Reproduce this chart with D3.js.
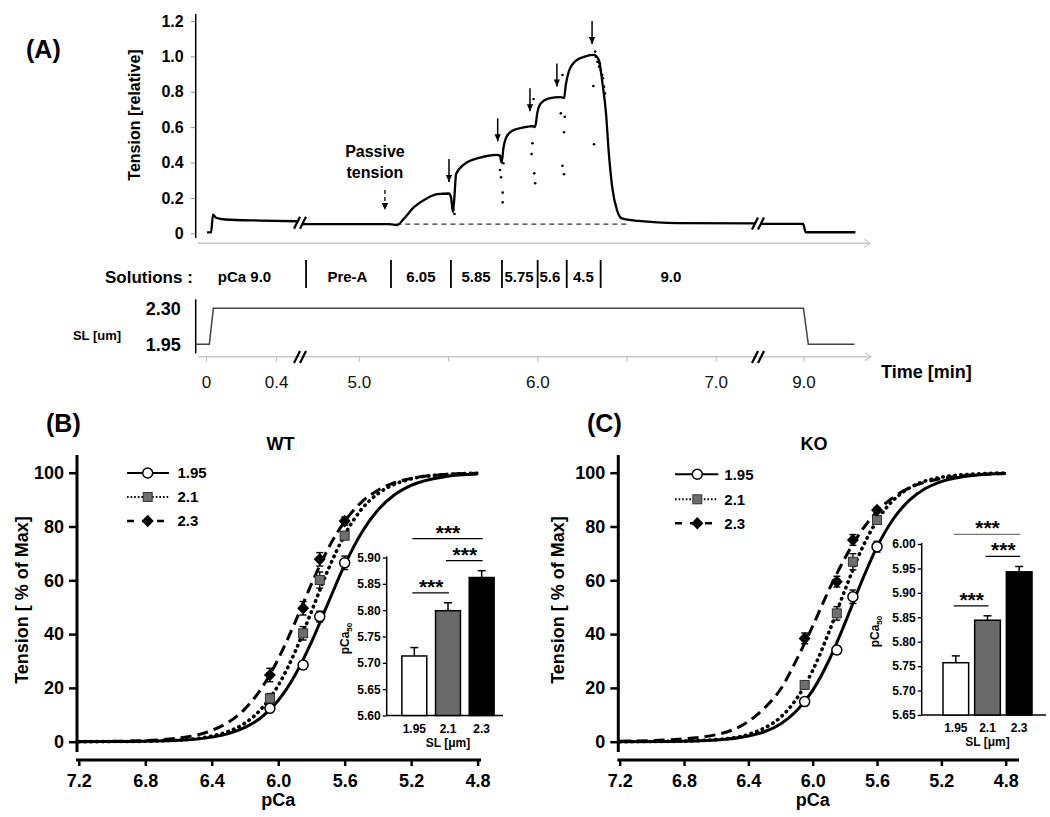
<!DOCTYPE html>
<html><head><meta charset="utf-8">
<script src="https://cdn.jsdelivr.net/npm/d3@7/dist/d3.min.js"></script>
<style>html,body{margin:0;padding:0;background:#fff;} svg{display:block;}</style>
</head><body>
<svg id="chart" width="1050" height="817"></svg>
<script>
// ================= DATA =================
// Panel A – tension recording (time in min, relative tension)
const traceTime = [0.006,0.029,0.04,0.057,0.11,0.31,0.526,
  4.68,5.17,5.215,5.25,5.31,5.385,5.44,5.505,5.517,5.527,5.535,5.545,5.59,5.68,5.77,5.79,5.80,5.81,5.825,5.86,5.93,5.975,5.985,5.992,6.0,6.02,6.065,6.13,6.15,6.16,6.178,6.215,6.27,6.318,6.345,6.365,6.385,6.4,6.42,6.447,6.475,6.565,6.79,7.22,
  8.76,8.998,9.012,9.29];
const traceTension = [0.005,0.005,0.105,0.088,0.078,0.072,0.068,
  0.052,0.052,0.047,0.08,0.149,0.2,0.222,0.225,0.2,0.12,0.2,0.335,0.39,0.428,0.443,0.44,0.40,0.48,0.54,0.58,0.60,0.606,0.6,0.62,0.68,0.735,0.762,0.77,0.765,0.84,0.92,0.975,1.0,1.008,0.98,0.85,0.68,0.465,0.26,0.13,0.084,0.07,0.058,0.056,
  0.053,0.053,0.006,0.006];
const dotTime = [5.525,5.530,5.536,5.797,5.806,5.806,5.791,5.810,5.983,5.988,5.968,5.973,5.979,6.141,6.150,6.150,6.154,6.132,6.141,6.318,6.314,6.374,6.379,6.328,6.337,6.346,6.356,6.364,6.368,6.350,6.324];
const dotTension = [0.160,0.132,0.109,0.317,0.230,0.175,0.358,0.396,0.339,0.283,0.448,0.509,0.759,0.382,0.334,0.571,0.659,0.678,0.895,0.503,0.833,0.829,0.791,0.998,0.970,0.942,0.923,0.895,0.876,0.961,1.027];
const arrowTime = [5.505,5.778,5.959,6.11,6.307];
const arrowTipTension = [0.29,0.52,0.69,0.83,1.07];
const passiveArrowTime = 5.146, passiveArrowTip = 0.12, passiveLabelTime = 5.09;
const passiveBaseline = 0.052, passiveSpan = [5.21, 6.5];
const tensionTicks = [0,0.2,0.4,0.6,0.8,1.0,1.2];
const solutionNames = ["pCa 9.0","Pre-A","6.05","5.85","5.75","5.6","4.5","9.0"];
const solutionLabelTime = [0.22,4.936,5.348,5.657,5.898,6.071,6.258,6.749];
const solutionBoundTime = [4.704,5.180,5.516,5.802,6.002,6.165,6.355];
const slTime = [-0.057,0.019,0.042,9.0,9.027,9.285];
const slValue = [1.95,1.95,2.30,2.30,1.95,1.95];
const slTicks = [1.95,2.30];
const timeTicks = [0,0.4,5.0,5.5,6.0,6.5,7.0,9.0];
const timeTickLabels = ["0","0.4","5.0","","6.0","","7.0","9.0"];
const axisBreakTime = [0.537,7.237];

// Panels B/C – force–pCa relations
const pCaGrid = [7.2,6.9,6.6,6.4,6.3,6.2,6.1,6.0,5.9,5.8,5.7,5.6,5.5,5.4,5.3,5.2,5.0,4.8];
const wtFit195 = [0.02,0.09,0.5,1.7,3.0,5.3,9.1,15.3,24.6,37.0,51.5,65.7,77.5,86.1,91.8,95.3,98.5,99.5];
const wtFit21  = [0.01,0.09,0.6,2.1,3.8,6.9,12.3,20.9,33.2,48.4,63.9,76.9,86.3,92.2,95.7,97.7,99.3,99.8];
const wtFit23  = [0.04,0.24,1.35,4.2,7.2,12.2,19.9,30.7,44.2,58.6,71.7,81.9,89.0,93.5,96.3,97.9,99.3,99.8];
const koFit195 = [0.02,0.11,0.64,2.1,3.7,6.6,11.5,19.1,30.1,44.0,58.9,72.4,82.7,89.7,94.1,96.7,99.0,99.7];
const koFit21  = [0.02,0.11,0.78,2.7,5.1,9.1,16.0,26.5,40.6,56.3,71.0,82.2,89.7,94.3,96.9,98.3,99.5,99.9];
const koFit23  = [0.17,0.7,2.6,7.5,12.5,19.5,30.5,43.0,56.3,68.2,78.1,85.6,90.8,94.3,96.5,97.8,99.2,99.7];
const markerPCa = [6.05,5.85,5.75,5.6];
const wtPts195 = [12.4,28.5,46.5,66.5], wtErr195 = [1.2,1.5,2.0,2.5];
const wtPts21  = [16.1,40.3,60.1,76.6], wtErr21  = [1.8,2.5,3.0,1.5];
const wtPts23  = [24.8,49.6,67.8,82.0], wtErr23  = [2.5,2.5,2.5,1.5];
const koPts195 = [14.9,34.1,53.9,72.5], koErr195 = [1.0,1.5,2.5,2.0];
const koPts21  = [21.1,47.7,66.9,82.4], koErr21  = [1.5,2.5,3.0,1.5];
const koPts23  = [38.4,59.5,75.0,86.1], koErr23  = [2.0,2.0,2.0,1.0];
const tensionPctTicks = [0,20,40,60,80,100];
const pCaTicks = [7.2,6.8,6.4,6.0,5.6,5.2,4.8];
const slLevels = ["1.95","2.1","2.3"];
const wtPCa50 = [5.713,5.799,5.862], wtPCa50Err = [0.016,0.015,0.013];
const koPCa50 = [5.757,5.844,5.943], koPCa50Err = [0.014,0.009,0.011];
const insetTicksWT = [5.60,5.65,5.70,5.75,5.80,5.85,5.90];
const insetTicksKO = [5.65,5.70,5.75,5.80,5.85,5.90,5.95,6.00];
const sigPairs = [[0,1],[1,2],[0,2]];
const sigLabel = "***";

// ================= DRAWING =================
const F = "'Liberation Sans', Arial, Helvetica, sans-serif";
const svg = d3.select("#chart").attr("font-family", F);
const defs = svg.append("defs");
defs.append("marker").attr("id","ah").attr("viewBox","0 0 10 10").attr("refX",10).attr("refY",5)
  .attr("markerWidth",7).attr("markerHeight",7).attr("markerUnits","userSpaceOnUse").attr("orient","auto")
  .append("path").attr("d","M0,0.5 L10,5 L0,9.5 Z").attr("fill","#000");

function addText(g, x, y, s, size, weight, anchor) {
  return g.append("text").attr("x",x).attr("y",y).attr("font-size",size)
    .attr("font-weight",weight||"bold").attr("text-anchor",anchor||"start").attr("fill","#000").text(s);
}
function breakMark(g, x, y) {
  [-3,3].forEach(dx => g.append("line").attr("x1",x+dx-3).attr("y1",y+6).attr("x2",x+dx+3).attr("y2",y-6)
    .attr("stroke","#000").attr("stroke-width",2.2));
}
function grayArrowAxis(g, x1, x2, y) {
  g.append("line").attr("x1",x1).attr("x2",x2).attr("y1",y).attr("y2",y).attr("stroke","#c8c8c8").attr("stroke-width",1.5);
  g.append("path").attr("d",`M${x2-6},${y-4} L${x2},${y} L${x2-6},${y+4}`).attr("fill","none").attr("stroke","#c8c8c8").attr("stroke-width",1.2);
}

// ---------- Panel A ----------
const gA = svg.append("g");
addText(gA, 26, 58, "(A)", 25);
const xT = d3.scaleLinear().domain([-0.1, axisBreakTime[0], 4.67, axisBreakTime[1], 8.746, 9.5])
  .range([188.5, 300, 300, 758, 758, 893]);
const yT = d3.scaleLinear().domain([0,1.2]).range([233.3,21]);

const yAx = gA.append("g").attr("transform","translate(195.7,0)")
  .call(d3.axisLeft(yT).tickValues(tensionTicks).tickSize(5).tickPadding(7).tickFormat(d => d===0 ? "0" : d3.format(".1f")(d)));
yAx.select(".domain").remove();
yAx.selectAll(".tick line").attr("stroke","#999");
yAx.selectAll(".tick text").attr("font-size",16).attr("font-weight","bold").attr("fill","#000").attr("font-family",F);
gA.append("line").attr("x1",195.7).attr("x2",195.7).attr("y1",14).attr("y2",238).attr("stroke","#000").attr("stroke-width",1.5);
gA.append("text").attr("transform","translate(139.5,115) rotate(-90)").attr("text-anchor","middle")
  .attr("font-size",16).attr("font-weight","bold").text("Tension [relative]");
grayArrowAxis(gA, 198, 870, 243.3);

// passive baseline
gA.append("line").attr("x1",xT(passiveSpan[0])).attr("x2",xT(passiveSpan[1]))
  .attr("y1",yT(passiveBaseline)).attr("y2",yT(passiveBaseline))
  .attr("stroke","#333").attr("stroke-width",1.2).attr("stroke-dasharray","5 4");

// trace
const segOf = t => t < axisBreakTime[0] ? 0 : (t < axisBreakTime[1] ? 1 : 2);
const tracePts = traceTime.map((t,i) => ({t, v: traceTension[i], s: segOf(t)}));
const lineT = d3.line().x(d => xT(d.t)).y(d => yT(d.v)).curve(d3.curveMonotoneX);
d3.groups(tracePts, d => d.s).forEach(([s, pts]) => {
  gA.append("path").attr("d", lineT(pts)).attr("fill","none").attr("stroke","#000").attr("stroke-width",2.3);
});
gA.selectAll("circle.dot").data(dotTime).join("circle").attr("class","dot")
  .attr("cx", d => xT(d)).attr("cy", (d,i) => yT(dotTension[i])).attr("r",1.3).attr("fill","#000");
breakMark(gA, xT(axisBreakTime[0]), yT(0.06));
breakMark(gA, xT(axisBreakTime[1]), yT(0.055));

// arrows
arrowTime.forEach((t,i) => {
  const x = xT(t), y = yT(arrowTipTension[i]);
  gA.append("line").attr("x1",x).attr("x2",x).attr("y1",y-23).attr("y2",y)
    .attr("stroke","#000").attr("stroke-width",1.5).attr("marker-end","url(#ah)");
});
{
  const x = xT(passiveArrowTime), y = yT(passiveArrowTip);
  gA.append("line").attr("x1",x).attr("x2",x).attr("y1",y-22).attr("y2",y-2)
    .attr("stroke","#000").attr("stroke-width",1.3).attr("stroke-dasharray","4 3").attr("marker-end","url(#ah)");
  addText(gA, xT(passiveLabelTime), 157, "Passive", 16, "bold", "middle");
  addText(gA, xT(passiveLabelTime), 178, "tension", 16, "bold", "middle");
}

// solutions row
addText(gA, 105, 283, "Solutions :", 17);
solutionNames.forEach((s,i) => addText(gA, xT(solutionLabelTime[i]), 282, s, 15, "bold", "middle"));
solutionBoundTime.forEach(t => gA.append("line").attr("x1",xT(t)).attr("x2",xT(t)).attr("y1",260).attr("y2",288)
  .attr("stroke","#000").attr("stroke-width",1.8));

// sarcomere length
const ySL = d3.scaleLinear().domain([1.95,2.30]).range([344.3,308.3]);
const slAx = gA.append("g").attr("transform","translate(195.7,0)")
  .call(d3.axisLeft(ySL).tickValues(slTicks).tickSize(0).tickPadding(15).tickFormat(d3.format(".2f")));
slAx.select(".domain").remove();
slAx.selectAll(".tick text").attr("font-size",18).attr("font-weight","bold").attr("fill","#000").attr("font-family",F);
gA.append("line").attr("x1",195.7).attr("x2",195.7).attr("y1",299.3).attr("y2",353.3).attr("stroke","#000").attr("stroke-width",1.5);
addText(gA, 97, 339.5, "SL [um]", 13, "bold", "middle");
const lineSL = d3.line().x((d,i) => xT(slTime[i])).y(d => ySL(d));
gA.append("path").attr("d", lineSL(slValue)).attr("fill","none").attr("stroke","#444").attr("stroke-width",1.5);

// time axis
grayArrowAxis(gA, 198, 871, 356.7);
const tAx = gA.append("g").attr("transform","translate(0,356.7)")
  .call(d3.axisBottom(xT).tickValues(timeTicks).tickSize(5).tickPadding(14).tickFormat((d,i) => timeTickLabels[i]));
tAx.select(".domain").remove();
tAx.selectAll(".tick line").attr("stroke","#bbb");
tAx.selectAll(".tick text").attr("font-size",17).attr("font-weight","normal").attr("fill","#111").attr("font-family",F);
breakMark(gA, xT(axisBreakTime[0]), 357);
breakMark(gA, xT(axisBreakTime[1]), 357);
addText(gA, 881, 378, "Time [min]", 18);

// ---------- Panels B & C ----------
const seriesStyle = [
  {dash:null, width:3, cap:"butt"},
  {dash:"0.5 5.5", width:3.6, cap:"round"},
  {dash:"11 6", width:3, cap:"butt"}
];
const legendStyle = [
  {dash:null, width:2},
  {dash:"1.6 2", width:2},
  {dash:"7 8", width:2.5}
];
function drawMarker(g, k, cx, cy) {
  if (k === 0) g.append("circle").attr("cx",cx).attr("cy",cy).attr("r",5).attr("fill","#fff").attr("stroke","#000").attr("stroke-width",1.5);
  else if (k === 1) g.append("rect").attr("x",cx-4.5).attr("y",cy-4.5).attr("width",9).attr("height",9).attr("fill","#6e6e6e").attr("stroke","#333").attr("stroke-width",1);
  else g.append("path").attr("d",`M${cx},${cy-6.3} L${cx+6},${cy} L${cx},${cy+6.3} L${cx-6},${cy} Z`).attr("fill","#000");
}

function drawInset(g, q) {
  const yI = d3.scaleLinear().domain(q.yDomain).range(q.yRange);
  const xI = d3.scaleBand().domain(slLevels).range(q.band).paddingInner(q.pi).paddingOuter(q.po);
  const ya = g.append("g").attr("transform",`translate(${q.axisX},0)`)
    .call(d3.axisLeft(yI).tickValues(q.ticks).tickFormat(d3.format(".2f")).tickSize(4).tickPadding(2));
  ya.select(".domain").remove();
  ya.selectAll(".tick line").attr("stroke","#000").attr("stroke-width",1.3);
  ya.selectAll(".tick text").attr("font-size",12).attr("font-weight","bold").attr("fill","#000").attr("font-family",F);
  g.append("line").attr("x1",q.axisX).attr("x2",q.axisX).attr("y1",q.yRange[1]-1).attr("y2",q.yRange[0]).attr("stroke","#000").attr("stroke-width",1.5);
  g.append("line").attr("x1",q.axisX).attr("x2",q.xEnd).attr("y1",q.yRange[0]).attr("y2",q.yRange[0]).attr("stroke","#000").attr("stroke-width",1.5);
  const fills = ["#ffffff","#6a6a6a","#000000"];
  slLevels.forEach((l,i) => {
    const x0 = xI(l), w = xI.bandwidth(), cx = x0 + w/2;
    const top = yI(q.values[i]), etop = yI(q.values[i] + q.errs[i]);
    g.append("line").attr("x1",cx).attr("x2",cx).attr("y1",top).attr("y2",etop).attr("stroke","#000").attr("stroke-width",1.5);
    g.append("line").attr("x1",cx-4).attr("x2",cx+4).attr("y1",etop).attr("y2",etop).attr("stroke","#000").attr("stroke-width",1.5);
    g.append("rect").attr("x",x0).attr("y",top).attr("width",w).attr("height",q.yRange[0]-top)
      .attr("fill",fills[i]).attr("stroke","#000").attr("stroke-width",1.5);
    addText(g, cx, q.yRange[0]+17, l, 12, "bold", "middle");
  });
  const mid = (q.band[0]+q.band[1])/2;
  addText(g, mid, q.yRange[0]+31, "SL [\u03bcm]", 12, "bold", "middle");
  const pl = g.append("text").attr("transform",`translate(${q.pcaX+4.3},${(q.yRange[0]+q.yRange[1])/2 + 2}) rotate(-90)`)
    .attr("text-anchor","middle").attr("font-size",12).attr("font-weight","bold");
  pl.append("tspan").text("pCa");
  pl.append("tspan").attr("font-size",8).attr("dy",3).text("50");
  // significance brackets
  const cxOf = i => xI(slLevels[i]) + xI.bandwidth()/2;
  const errTop = i => yI(q.values[i] + q.errs[i]);
  const yAdj = sigPairs.slice(0,2).map(([a,b]) => Math.min(errTop(a), errTop(b)) - 10);
  const yBr = [yAdj[0], yAdj[1], yAdj[1] - 22];
  sigPairs.forEach(([a,b],k) => {
    const col = (k === 2) ? q.topColor : "#000";
    g.append("line").attr("x1",cxOf(a)-2).attr("x2",cxOf(b)+1).attr("y1",yBr[k]).attr("y2",yBr[k]).attr("stroke",col).attr("stroke-width",1.3);
    addText(g, (cxOf(a)+cxOf(b))/2, yBr[k]+1, sigLabel, 21, "bold", "middle");
  });
}

function drawPanel(p) {
  const g = svg.append("g");
  const x = d3.scaleLinear().domain([7.2,4.8]).range(p.xRange);
  const y = d3.scaleLinear().domain([0,100]).range([741.7,472.7]);
  addText(g, p.tagX, 432, p.tag, 25);
  addText(g, p.titleX, 449.5, p.title, 18, "bold", "middle");
  const ya = g.append("g").attr("transform",`translate(${p.yAxisX},0)`)
    .call(d3.axisLeft(y).tickValues(tensionPctTicks).tickSize(8).tickPadding(5));
  ya.select(".domain").remove();
  ya.selectAll(".tick line").attr("stroke","#000").attr("stroke-width",2.5);
  ya.selectAll(".tick text").attr("font-size",18).attr("font-weight","bold").attr("fill","#000").attr("font-family",F);
  g.append("line").attr("x1",p.yAxisX).attr("x2",p.yAxisX).attr("y1",455).attr("y2",752).attr("stroke","#000").attr("stroke-width",3);
  const xa = g.append("g").attr("transform","translate(0,760)")
    .call(d3.axisBottom(x).tickValues(pCaTicks).tickFormat(d3.format(".1f")).tickSize(6).tickPadding(8));
  xa.select(".domain").remove();
  xa.selectAll(".tick line").attr("stroke","#000").attr("stroke-width",2.5);
  xa.selectAll(".tick text").attr("font-size",18).attr("font-weight","bold").attr("fill","#000").attr("font-family",F);
  g.append("line").attr("x1",p.yAxisX-1).attr("x2",p.xEnd).attr("y1",760).attr("y2",760).attr("stroke","#000").attr("stroke-width",3);
  addText(g, (p.xRange[0]+p.xRange[1])/2, 806, "pCa", 18, "bold", "middle");
  g.append("text").attr("transform",`translate(${p.ylabX},600) rotate(-90)`).attr("text-anchor","middle")
    .attr("font-size",18).attr("font-weight","bold").text("Tension [ % of Max]");

  const line = d3.line().x((d,i) => x(pCaGrid[i])).y(d => y(d)).curve(d3.curveMonotoneX);
  p.fits.forEach((f,k) => {
    const s = seriesStyle[k];
    const path = g.append("path").attr("d", line(f)).attr("fill","none").attr("stroke","#000")
      .attr("stroke-width", s.width).attr("stroke-linecap", s.cap);
    if (s.dash) path.attr("stroke-dasharray", s.dash);
  });
  p.points.forEach((vals,k) => {
    vals.forEach((v,i) => {
      const cx = x(markerPCa[i]), e = p.errs[k][i];
      const y1 = y(v + e), y2 = y(v - e);
      g.append("line").attr("x1",cx).attr("x2",cx).attr("y1",y1).attr("y2",y2).attr("stroke","#000").attr("stroke-width",1.4);
      g.append("line").attr("x1",cx-3.5).attr("x2",cx+3.5).attr("y1",y1).attr("y2",y1).attr("stroke","#000").attr("stroke-width",1.4);
      g.append("line").attr("x1",cx-3.5).attr("x2",cx+3.5).attr("y1",y2).attr("y2",y2).attr("stroke","#000").attr("stroke-width",1.4);
      drawMarker(g, k, cx, y(v));
    });
  });
  // legend
  slLevels.forEach((l,k) => {
    const yy = p.legRows[k], s = legendStyle[k];
    const ln = g.append("line").attr("x1",p.legX[0]).attr("x2",p.legX[1]).attr("y1",yy).attr("y2",yy)
      .attr("stroke","#000").attr("stroke-width",s.width);
    if (s.dash) ln.attr("stroke-dasharray", s.dash);
    drawMarker(g, k, p.legSym, yy);
    addText(g, p.legLab, yy+5.3, l, 15, "bold", "start");
  });
  drawInset(g, p.inset);
}

drawPanel({
  tag:"(B)", tagX:46, title:"WT", titleX:280.5, xRange:[78.8,477.6], yAxisX:77, xEnd:481, ylabX:27.5,
  fits:[wtFit195, wtFit21, wtFit23], points:[wtPts195, wtPts21, wtPts23], errs:[wtErr195, wtErr21, wtErr23],
  legX:[127,169], legSym:147.7, legLab:177.5, legRows:[473,497,521],
  inset:{axisX:386.7, yDomain:[5.60,5.90], yRange:[715.5,557.5], ticks:insetTicksWT, band:[397.5,498.5], pi:0.26, po:0.13,
         xEnd:503, pcaX:345, values:wtPCa50, errs:wtPCa50Err, topColor:"#000"}
});
drawPanel({
  tag:"(C)", tagX:587, title:"KO", titleX:814, xRange:[619.7,1005.7], yAxisX:618.3, xEnd:1019, ylabX:563.5,
  fits:[koFit195, koFit21, koFit23], points:[koPts195, koPts21, koPts23], errs:[koErr195, koErr21, koErr23],
  legX:[675,718.3], legSym:697.3, legLab:724.3, legRows:[474.3,499.3,523.3],
  inset:{axisX:921.7, yDomain:[5.65,6.00], yRange:[715,544], ticks:insetTicksKO, band:[939.5,1035.5], pi:0.19, po:0.11,
         xEnd:1046, pcaX:875, values:koPCa50, errs:koPCa50Err, topColor:"#777"}
});
</script>
</body></html>
